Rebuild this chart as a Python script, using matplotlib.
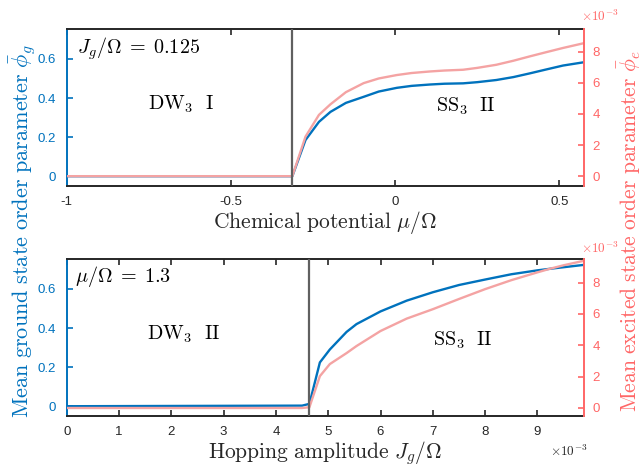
import numpy as np
import matplotlib
matplotlib.use("Agg")
import matplotlib.pyplot as plt
from matplotlib.ticker import FuncFormatter

plt.rcParams['mathtext.fontset'] = 'cm'
plt.rcParams['font.family'] = ['Liberation Sans', 'DejaVu Sans']

BLUE = '#0072BD'
PINK = '#F4A3A3'
RED = '#FF6666'
GREY = '#606060'
DARK = '#262626'

# top panel: sweep of chemical potential at J_g/Omega = 0.125
mu = [-1.0, -0.313, -0.273, -0.232, -0.197, -0.15, -0.096, -0.05, 0.005, 0.05,
      0.106, 0.15, 0.207, 0.25, 0.308, 0.36, 0.41, 0.46, 0.511, 0.575]
phi_g_mu = [0, 0, 0.185, 0.278, 0.329, 0.375, 0.406, 0.433, 0.452, 0.462,
            0.469, 0.473, 0.475, 0.481, 0.492, 0.507, 0.526, 0.546, 0.566, 0.583]
phi_e_mu = [0, 0, 2.54e-3, 3.94e-3, 4.62e-3, 5.40e-3, 5.98e-3, 6.28e-3, 6.50e-3, 6.63e-3,
            6.73e-3, 6.79e-3, 6.84e-3, 6.96e-3, 7.16e-3, 7.42e-3, 7.70e-3, 7.97e-3, 8.24e-3, 8.55e-3]
mu_c = -0.313

# bottom panel: sweep of hopping amplitude at mu/Omega = 1.3
J = [0, 4.5e-3, 4.64e-3, 4.84e-3, 5.03e-3, 5.35e-3, 5.54e-3, 6.0e-3, 6.5e-3, 7.0e-3,
     7.5e-3, 8.0e-3, 8.5e-3, 9.0e-3, 9.24e-3, 9.5e-3, 9.89e-3]
phi_g_J = [0, 0.003, 0.012, 0.224, 0.29, 0.38, 0.42, 0.485, 0.54, 0.583,
           0.62, 0.648, 0.675, 0.695, 0.703, 0.711, 0.723]
phi_e_J = [0, 0, 0.05e-3, 2.03e-3, 2.80e-3, 3.50e-3, 3.95e-3, 4.91e-3, 5.70e-3, 6.30e-3,
           6.95e-3, 7.58e-3, 8.15e-3, 8.65e-3, 8.88e-3, 9.10e-3, 9.39e-3]
J_c = 4.64e-3

fig = plt.figure(figsize=(6.42, 4.66), dpi=100)


def style(ax, axr):
    for s in ['top', 'bottom']:
        ax.spines[s].set_color(DARK)
        ax.spines[s].set_linewidth(1.4)
    ax.spines['left'].set_color(BLUE)
    ax.spines['left'].set_linewidth(1.4)
    axr.spines['right'].set_color(RED)
    axr.spines['right'].set_linewidth(1.4)
    for s in ['top', 'bottom', 'left']:
        axr.spines[s].set_visible(False)
    ax.spines['right'].set_visible(False)
    ax.tick_params(axis='x', direction='in', top=True, length=4, width=1.2,
                   colors=DARK, labelsize=9.5, pad=7)
    ax.tick_params(axis='y', direction='in', length=4, width=1.2,
                   colors=BLUE, labelsize=9.5, pad=8)
    axr.tick_params(axis='y', direction='in', length=4, width=1.2,
                    colors=RED, labelsize=9.5, pad=6)
    ax.set_ylim(-0.05, 0.753)
    ax.set_yticks([0, 0.2, 0.4, 0.6])
    ax.yaxis.set_major_formatter(FuncFormatter(lambda v, p: '0' if v == 0 else f'{v:g}'))
    axr.set_yticks([0, 2e-3, 4e-3, 6e-3, 8e-3])
    axr.yaxis.set_major_formatter(FuncFormatter(lambda v, p: f'{v * 1e3:.0f}'))


ax1 = fig.add_axes([0.1039, 0.6009, 0.8058, 0.3369])
ax1r = ax1.twinx()
ax1.plot(mu, phi_g_mu, color=BLUE, lw=1.7)
ax1r.plot(mu, phi_e_mu, color=PINK, lw=1.7)
ax1r.axvline(mu_c, color=GREY, lw=1.6)
ax1.set_xlim(-1, 0.575)
ax1r.set_ylim(-0.63e-3, 9.46e-3)
style(ax1, ax1r)
ax1.set_xticks([-1, -0.5, 0, 0.5])
ax1.xaxis.set_major_formatter(FuncFormatter(lambda v, p: '0' if v == 0 else f'{v:g}'))
ax1.set_xlabel(r'$\mathrm{Chemical\ potential}\ \mu/\Omega$', fontsize=15.5, color=DARK, labelpad=1)
ax1.text(0.02, 0.875, r'$J_g/\Omega\;=\;0.125$', transform=ax1.transAxes, fontsize=14.5,
         va='center', ha='left', color='black')
ax1.text(0.221, 0.523, r'$\mathrm{DW}_3\ \ \mathrm{I}$', transform=ax1.transAxes,
         fontsize=14.5, ha='center', va='center')
ax1.text(0.772, 0.51, r'$\mathrm{SS}_3\ \ \mathrm{II}$', transform=ax1.transAxes,
         fontsize=14.5, ha='center', va='center')

ax2 = fig.add_axes([0.1039, 0.1073, 0.8058, 0.3369])
ax2r = ax2.twinx()
ax2.plot(J, phi_g_J, color=BLUE, lw=1.7)
ax2r.plot(J, phi_e_J, color=PINK, lw=1.7)
ax2r.axvline(J_c, color=GREY, lw=1.6)
ax2.set_xlim(0, 9.89e-3)
ax2r.set_ylim(-0.51e-3, 9.5e-3)
style(ax2, ax2r)
ax2.set_xticks([i * 1e-3 for i in range(10)])
ax2.xaxis.set_major_formatter(FuncFormatter(lambda v, p: f'{v * 1e3:.0f}'))
ax2.set_xlabel(r'$\mathrm{Hopping\ amplitude}\ J_g/\Omega$', fontsize=15.5, color=DARK, labelpad=1)
ax2.text(0.017, 0.887, r'$\mu/\Omega\;=\;1.3$', transform=ax2.transAxes, fontsize=14.5,
         va='center', ha='left')
ax2.text(0.225, 0.523, r'$\mathrm{DW}_3\ \ \mathrm{II}$', transform=ax2.transAxes,
         fontsize=14.5, ha='center', va='center')
ax2.text(0.766, 0.485, r'$\mathrm{SS}_3\ \ \mathrm{II}$', transform=ax2.transAxes,
         fontsize=14.5, ha='center', va='center')

# exponent labels
expo = r'$\mathsf{\times10^{-3}}$'
fig.text(0.905, 0.966, expo, color=RED, fontsize=9.5, ha='left', va='center')
fig.text(0.905, 0.468, expo, color=RED, fontsize=9.5, ha='left', va='center')
fig.text(0.857, 0.032, expo, color=DARK, fontsize=9.5, ha='left', va='center')

fig.text(0.036, 0.505, r'$\mathrm{Mean\ ground\ state\ order\ parameter}\ \bar{\phi}_g$',
         rotation=90, color=BLUE, fontsize=16, ha='center', va='center')
fig.text(0.98, 0.505, r'$\mathrm{Mean\ excited\ state\ order\ parameter}\ \bar{\phi}_e$',
         rotation=90, color=RED, fontsize=15.5, ha='center', va='center')

fig.savefig('out.png', dpi=100)
